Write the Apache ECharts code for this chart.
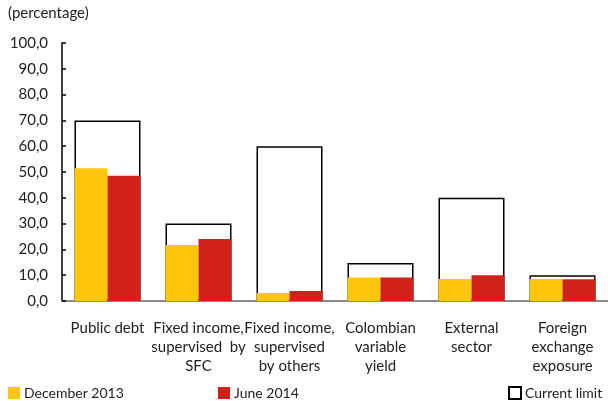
<!DOCTYPE html>
<html>
<head>
<meta charset="utf-8">
<script src="https://cdn.jsdelivr.net/npm/echarts@6/dist/echarts.min.js"></script>
<style>
  html, body { margin: 0; padding: 0; background: #fff; }
  #chart { width: 608px; height: 401px; }
</style>
</head>
<body>
<div id="chart"></div>
<script>
// Portfolio limits by asset type (percentage)
const categories = [
  'Public debt',
  'Fixed income,\nsupervised  by\nSFC',
  'Fixed income,\nsupervised\nby others',
  'Colombian\nvariable\nyield',
  'External\nsector',
  'Foreign\nexchange\nexposure'
];
const december2013 = [51.5, 21.7, 3.1, 9.1, 8.5, 8.5];
const june2014 = [48.5, 24.0, 3.9, 9.1, 10.0, 8.4];
const currentLimit = [70, 30, 60, 14.7, 40, 10];
const yTicks = { min: 0, max: 100, interval: 10 };

const FONT = 'Lato';
const TEXT = '#222';

const chart = echarts.init(document.getElementById('chart'), null, { renderer: 'canvas' });

chart.setOption({
  animation: false,
  textStyle: { fontFamily: FONT },
  graphic: [{
    type: 'text', left: 8, top: 6,
    style: { text: '(percentage)', font: '15px "' + FONT + '"', fill: TEXT }
  }],
  legend: [
    { left: 3, top: 381, data: ['December 2013'] },
    { left: 213, top: 381, data: ['June 2014'] },
    { left: 503, top: 381, data: ['Current limit'] }
  ].map(l => Object.assign(l, {
    icon: 'rect', itemWidth: 12, itemHeight: 12, itemGap: 4,
    textStyle: { fontFamily: FONT, fontSize: 14, color: TEXT, padding: [0, 0, 0, -1] }
  })),
  grid: { left: 62, top: 43, width: 548, height: 258 },
  xAxis: [
    {
      type: 'category', data: categories,
      axisLine: { lineStyle: { color: '#8a8a8a', width: 2 } },
      axisTick: { show: false },
      axisLabel: {
        interval: 0, color: TEXT, fontFamily: FONT, fontSize: 15,
        lineHeight: 19, margin: 18
      }
    },
    { type: 'category', data: categories, show: false }
  ],
  yAxis: {
    type: 'value', min: yTicks.min, max: yTicks.max, interval: yTicks.interval,
    splitLine: { show: false },
    axisLine: { show: true, lineStyle: { color: '#000', width: 1.5 } },
    axisTick: { show: true, inside: true, length: 4, lineStyle: { color: '#000', width: 1.5 } },
    axisLabel: {
      color: TEXT, fontFamily: FONT, fontSize: 15, margin: 14,
      formatter: v => v.toFixed(1).replace('.', ',')
    }
  },
  series: [
    {
      name: 'Current limit', type: 'bar', xAxisIndex: 0, data: currentLimit,
      barWidth: 66, z: 1,
      itemStyle: { color: '#fff', borderColor: '#000', borderWidth: 1.5 }
    },
    {
      name: 'December 2013', type: 'bar', xAxisIndex: 1, data: december2013,
      barWidth: 33, barGap: '0%', z: 3,
      itemStyle: { color: '#FFC60B' }
    },
    {
      name: 'June 2014', type: 'bar', xAxisIndex: 1, data: june2014,
      barWidth: 33, barGap: '0%', z: 3,
      itemStyle: { color: '#D0211A' }
    }
  ]
});
</script>
</body>
</html>
